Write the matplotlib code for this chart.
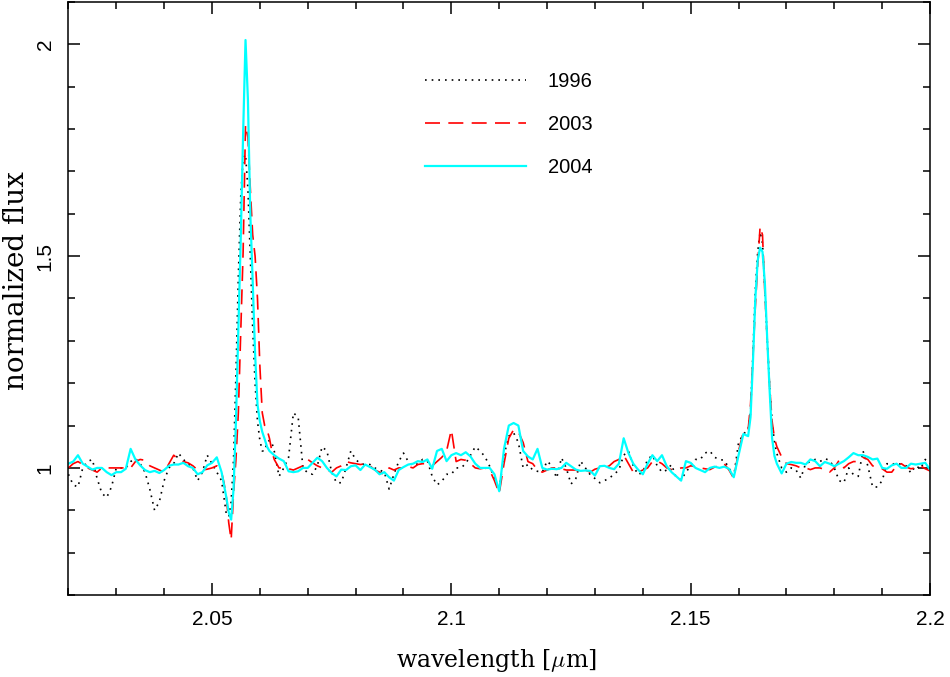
import numpy as np
import matplotlib
matplotlib.use("Agg")
import matplotlib.pyplot as plt
from matplotlib.ticker import MultipleLocator

# sampling grid (offset from 2.02 um in units of 0.001 um); finer near the two emission lines
grid_k = np.concatenate([
    np.arange(0, 32),
    np.arange(32, 43.01, 0.5),
    np.arange(44, 142),
    np.arange(142, 148.01, 0.5),
    np.arange(149, 181),
])
wavelength = 2.02 + grid_k / 1000.0

flux_1996 = [
    0.985, 0.96, 0.955, 1.0, 1.015, 1.02, 0.975, 0.94, 0.93, 0.955,
    1.0, 1.0, 1.0, 1.015, 1.022, 1.01, 0.99, 0.95, 0.9, 0.92,
    0.97, 1.0, 1.01, 1.035, 1.02, 1.01, 1.0, 0.97, 0.99, 1.03,
    1.01, 0.99,
    0.97, 0.93, 0.89, 0.885, 0.92, 1.02, 1.22, 1.45, 1.64, 1.73, 1.74, 1.66,
    1.50, 1.33, 1.20, 1.11, 1.065, 1.04, 1.04, 1.06, 1.065, 1.06, 1.04,
    0.98, 1.0, 1.025, 1.13, 1.12, 1.0, 0.988, 0.985, 1.005, 1.05,
    1.04, 0.99, 0.965, 0.965, 1.0, 1.04, 1.02, 1.01, 1.008, 1.008,
    1.0, 0.995, 0.99, 0.95, 0.985, 1.015, 1.035, 1.015, 1.005, 1.01,
    1.02, 1.016, 0.98, 0.96, 0.968, 0.985, 0.985, 1.0, 1.0, 1.01,
    1.03, 1.05, 1.04, 1.027, 1.004, 0.975, 0.95, 1.03, 1.075, 1.083,
    1.06, 1.0, 1.008, 0.995, 0.992, 0.99, 1.016, 1.005, 0.976, 1.024,
    1.0, 0.962, 0.975, 1.016, 1.0, 0.984, 0.975, 0.965, 0.97, 0.976,
    0.985, 0.995, 1.03, 1.04, 1.005, 0.984, 0.99, 1.02, 1.03, 1.005,
    0.99, 0.995, 1.008, 0.976, 0.972, 0.99, 1.005, 1.02, 1.02, 1.035,
    1.04, 1.025, 1.02, 1.018, 1.0, 0.98, 1.06, 1.08,
    1.09, 1.13, 1.27, 1.42, 1.51, 1.557, 1.53, 1.42, 1.30, 1.19, 1.11, 1.06, 1.034,
    1.0, 0.99, 1.0, 0.995, 0.976, 1.01, 1.015, 1.02, 1.015, 1.022,
    1.018, 1.0, 0.97, 0.965, 1.0, 0.984, 0.98, 1.04, 1.005, 0.955,
    0.955, 0.97, 1.01, 1.008, 1.012, 1.008, 1.005, 0.988, 1.005, 0.998,
    1.02, 1.01,
]

flux_2003 = [
    1.0, 1.01, 1.015, 1.008, 1.0, 0.995, 0.99, 1.0, 1.0, 1.0,
    1.0, 1.0, 1.0, 1.0, 1.015, 1.02, 1.018, 1.005, 1.0, 0.995,
    0.99, 1.01, 1.03, 1.02, 1.015, 1.012, 1.005, 0.995, 0.995, 0.997,
    1.0, 1.005,
    0.99, 0.965, 0.93, 0.87, 0.83, 0.94, 1.02, 1.13, 1.32, 1.51, 1.81, 1.78,
    1.66, 1.55, 1.50, 1.40, 1.24, 1.13, 1.10, 1.09, 1.07, 1.04, 1.02,
    1.0, 1.0, 0.998, 0.995, 1.0, 1.005, 1.02, 1.012, 1.005, 1.0,
    0.996, 0.99, 1.0, 1.005, 1.015, 1.012, 1.01, 1.008, 1.01, 1.005,
    0.995, 0.99, 0.985, 1.0, 0.995, 1.0, 1.0, 1.003, 1.0, 1.008,
    1.01, 1.01, 1.005, 1.015, 1.025, 1.04, 1.09, 1.015, 1.02, 1.018,
    1.01, 1.0, 0.998, 1.0, 0.995, 0.97, 0.94, 1.01, 1.07, 1.09,
    1.085, 1.06, 1.015, 1.01, 0.995, 0.99, 0.995, 1.0, 1.0, 0.998,
    0.995, 0.995, 0.995, 0.99, 0.995, 0.99, 0.997, 1.0, 1.0, 1.005,
    1.015, 1.02, 1.03, 1.01, 0.99, 0.99, 0.995, 1.0, 1.015, 1.016,
    1.01, 1.0, 0.996, 0.996, 1.0, 1.0, 1.005, 1.003, 1.0, 0.998,
    0.996, 1.002, 1.005, 1.01, 0.995, 0.975, 1.04, 1.085,
    1.09, 1.15, 1.26, 1.38, 1.48, 1.57, 1.55, 1.41, 1.30, 1.19, 1.11, 1.07, 1.05,
    1.026, 1.01, 1.008, 1.005, 1.0, 1.0, 0.996, 1.0, 1.0, 0.996,
    0.99, 1.0, 1.018, 1.0, 1.01, 1.015, 1.015, 1.025, 1.02, 1.005,
    1.0, 0.998, 0.99, 0.99, 1.005, 1.01, 1.002, 0.998, 1.0, 1.005,
    0.998, 0.993,
]

flux_2004 = [
    1.01, 1.015, 1.03, 1.01, 1.003, 0.996, 1.0, 1.0, 0.99, 0.983,
    0.99, 0.99, 0.998, 1.045, 1.02, 1.006, 0.995, 0.99, 0.993, 0.988,
    0.995, 1.005, 1.008, 1.008, 1.012, 1.004, 1.0, 0.985, 0.99, 1.006,
    1.012, 1.025,
    0.99, 0.96, 0.93, 0.895, 0.878, 0.95, 1.11, 1.33, 1.54, 1.79, 2.01, 1.87,
    1.60, 1.44, 1.27, 1.15, 1.11, 1.085, 1.068, 1.05, 1.04, 1.035, 1.03,
    1.022, 1.016, 0.992, 0.99, 0.992, 1.0, 1.0, 1.012, 1.024, 1.016,
    1.0, 0.988, 0.98, 0.996, 0.995, 1.004, 1.006, 0.995, 1.008, 1.002,
    0.996, 0.985, 0.99, 0.978, 0.97, 0.995, 1.002, 1.008, 1.01, 1.016,
    1.014, 1.02, 0.998, 1.04, 1.045, 1.016, 1.03, 1.035, 1.03, 1.037,
    1.027, 1.01, 1.0, 1.0, 1.0, 0.985, 0.945, 1.045, 1.1, 1.106,
    1.1, 1.04, 1.027, 1.02, 1.045, 1.0, 0.996, 0.998, 0.997, 1.0,
    1.012, 1.004, 0.996, 0.993, 0.994, 0.993, 0.982, 1.004, 1.005, 1.0,
    0.997, 1.01, 1.07, 1.035, 1.01, 0.996, 0.985, 1.01, 1.03, 1.016,
    1.03, 1.004, 0.99, 0.98, 0.97, 1.016, 1.012, 1.0, 0.995, 0.99,
    1.0, 1.003, 1.0, 1.003, 0.998, 0.978, 1.03, 1.08,
    1.075, 1.12, 1.25, 1.40, 1.49, 1.52, 1.51, 1.435, 1.30, 1.18, 1.07, 1.028, 1.01,
    0.987, 1.01, 1.014, 1.012, 1.012, 1.008, 1.02, 1.016, 1.004, 1.014,
    1.01, 1.004, 1.01, 1.016, 1.025, 1.035, 1.03, 1.03, 1.026, 1.02,
    1.022, 1.0, 0.998, 1.006, 1.01, 1.0, 1.0, 1.01, 1.008, 1.01,
    1.012, 0.996,
]

series_labels = ["1996", "2003", "2004"]
x_ticks = [2.05, 2.1, 2.15, 2.2]
x_ticklabels = ["2.05", "2.1", "2.15", "2.2"]
y_ticks = [1.0, 1.5, 2.0]
y_ticklabels = ["1", "1.5", "2"]

plt.rcParams["mathtext.fontset"] = "cm"
tick_font = "Liberation Sans"

fig = plt.figure(figsize=(9.5, 6.77), dpi=100)
ax = fig.add_axes([0.072, 0.1211, 0.907, 0.8761])

ax.plot(wavelength, flux_1996, color="black", lw=1.2, linestyle=(0, (1, 3.0)),
        dash_capstyle="butt", label=series_labels[0])
ax.plot(wavelength, flux_2003, color="#ff0000", lw=1.2, linestyle=(0, (9, 5)),
        label=series_labels[1])
ax.plot(wavelength, flux_2004, color="#00ffff", lw=1.6, linestyle="-",
        label=series_labels[2])

ax.set_xlim(2.02, 2.2)
ax.set_ylim(0.7, 2.1)
ax.set_xticks(x_ticks)
ax.set_xticklabels(x_ticklabels, family=tick_font, fontsize=15)
ax.set_yticks(y_ticks)
ax.set_yticklabels(y_ticklabels, rotation=90, va="center", family=tick_font, fontsize=15)
ax.xaxis.set_minor_locator(MultipleLocator(0.01))
ax.yaxis.set_minor_locator(MultipleLocator(0.1))
ax.tick_params(which="both", direction="in", top=True, right=True,
               width=1.1, colors="black")
ax.tick_params(which="major", length=8.6)
ax.tick_params(which="minor", length=4.8)
ax.tick_params(axis="x", pad=11)
ax.tick_params(axis="y", pad=10)
for sp in ax.spines.values():
    sp.set_linewidth(1.1)

ax.set_xlabel(r"wavelength [$\mu$m]", family="DejaVu Serif", fontsize=17)
ax.xaxis.set_label_coords(0.497, -0.088)
ax.set_ylabel("normalized flux", family="DejaVu Serif", fontsize=20)
ax.yaxis.set_label_coords(-0.045, 0.53)

leg = ax.legend(loc="upper left", bbox_to_anchor=(0.414, 0.882), frameon=False,
                prop={"family": tick_font, "size": 14.5}, handlelength=5.0,
                handletextpad=1.1, labelspacing=1.2, borderpad=0.0,
                borderaxespad=0.0)

fig.savefig("out.png", dpi=100)
